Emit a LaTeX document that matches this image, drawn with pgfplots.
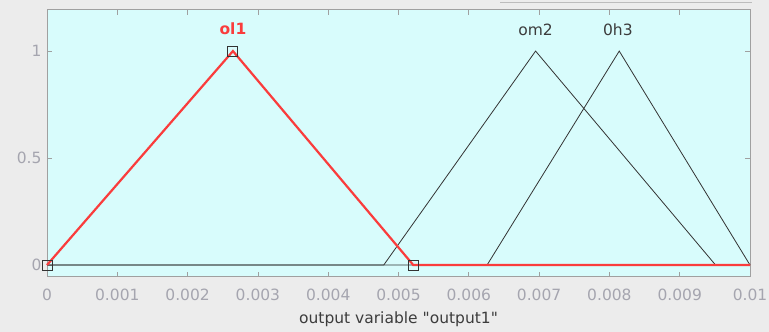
\documentclass[border=0pt]{standalone}
\usepackage{pgfplots}
\pgfplotsset{compat=1.18}
\usepackage{fontspec}
\setmainfont{DejaVu Sans}
\newfontfamily\plainfont{DejaVu Sans}
\definecolor{figbg}{RGB}{236,236,236}
\definecolor{axbg}{RGB}{216,252,252}
\definecolor{tickgray}{RGB}{165,165,175}
\definecolor{boxgray}{RGB}{160,160,160}
\definecolor{mfred}{RGB}{250,60,60}
\definecolor{lblgray}{RGB}{60,60,60}
\begin{document}
\begin{tikzpicture}[x=1pt,y=1pt]
\fill[figbg] (0,0) rectangle (769,332);
\useasboundingbox (0,0) rectangle (769,332);
\draw[boxgray!70, line width=1pt] (500,329) -- (752,329);
\begin{axis}[
  at={(47pt,55pt)}, anchor=south west,
  scale only axis, width=703pt, height=267pt,
  xmin=0, xmax=0.01, ymin=-0.056, ymax=1.192,
  axis background/.style={fill=axbg},
  axis line style={boxgray, line width=1pt},
  tick style={boxgray, line width=0.8pt},
  tick align=inside, major tick length=5pt,
  xtick={0,0.001,0.002,0.003,0.004,0.005,0.006,0.007,0.008,0.009,0.01},
  xticklabels={0,0.001,0.002,0.003,0.004,0.005,0.006,0.007,0.008,0.009,0.01},
  ytick={0,0.5,1}, yticklabels={0,0.5,1},
  scaled x ticks=false,
  ticklabel style={font=\fontsize{15.5}{18}\selectfont, text=tickgray},
  xticklabel style={yshift=-8pt},
  yticklabel style={xshift=-2pt},
  xlabel={{\plainfont output variable "output1"}},
  xlabel style={font=\fontsize{15.5}{18}\selectfont, text=lblgray, yshift=-5pt},
  clip=false,
]
% om2
\addplot[black!80, line width=0.8pt] coordinates {(0,0) (0.00479,0) (0.00695,1) (0.00951,0) (0.01,0)};
% 0h3
\addplot[black!80, line width=0.8pt] coordinates {(0,0) (0.00626,0) (0.00814,1) (0.01,0)};
% ol1 (selected)
\addplot[mfred, line width=2.2pt] coordinates {(0,0) (0.002645,1) (0.00521,0) (0.01,0)};
\addplot[only marks, mark=square, mark size=5pt, mark options={black!80, line width=1pt}] coordinates {(0,0) (0.002645,1) (0.00521,0)};
\node[text=mfred, font=\bfseries\fontsize{15.5}{18}\selectfont] at (axis cs:0.002645,1.105) {ol1};
\node[text=lblgray, font=\fontsize{15.5}{18}\selectfont] at (axis cs:0.00695,1.1) {om2};
\node[text=lblgray, font=\fontsize{15.5}{18}\selectfont] at (axis cs:0.00812,1.1) {0h3};
\end{axis}
\end{tikzpicture}
\end{document}
